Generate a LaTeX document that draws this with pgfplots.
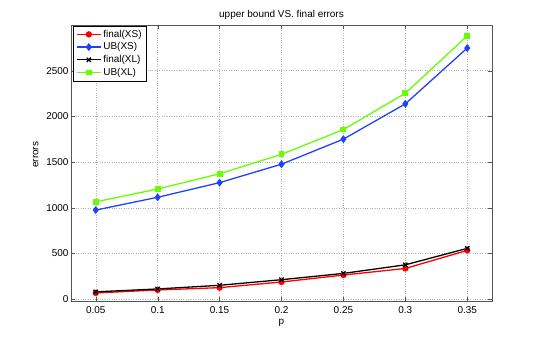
\documentclass[border=0pt]{standalone}
\usepackage{fontspec}
\setmainfont{Liberation Sans}
\usepackage{pgfplots}
\pgfplotsset{compat=1.18}
\definecolor{ubxs}{HTML}{2040FF}
\definecolor{ubxl}{HTML}{66FF00}
\definecolor{axgray}{HTML}{555555}

\begin{document}
\begin{tikzpicture}[x=1bp,y=1bp]
\path (-71,-39) rectangle (474,301);
\begin{axis}[
  at={(0,0)}, anchor=south west,
  scale only axis,
  width=421bp, height=276bp,
  xmin=0.03, xmax=0.37,
  ymin=-20, ymax=3000,
  xtick={0.05,0.1,...,0.36},
  xticklabels={0.05,0.1,0.15,0.2,0.25,0.3,0.35},
  ytick={0,500,...,2500},
  font=\fontsize{10}{12}\selectfont,
  tick label style={font=\fontsize{10}{12}\selectfont},
  /pgf/number format/assume math mode=true,
  /pgf/number format/1000 sep={},
  scaled y ticks=false,
  tick align=inside,
  axis line style={axgray},
  major tick style={axgray},
  grid=major,
  major grid style={dotted, gray!60},
  title={upper bound VS. final errors},
  title style={yshift=-4pt},
  xlabel={p}, ylabel={errors},
  xlabel style={at={(axis description cs:0.5,0)}, anchor=base,
    yshift=-23bp, inner sep=0pt},
  ylabel style={at={(axis description cs:0,0.53)}, anchor=base,
    yshift=32.5bp, inner sep=0pt},
  xticklabel style={anchor=base, yshift=-12.5bp, inner sep=0pt},
  yticklabel style={xshift=1pt},
  legend style={draw=black, font=\fontsize{10}{12}\selectfont,
    inner xsep=3pt, inner ysep=2pt, row sep=0pt,
    at={(0.005,0.997)}, anchor=north west},
  legend image code/.code={
    \draw[mark repeat=2, mark phase=2]
      plot coordinates {(0cm,0cm) (0.42cm,0cm) (0.84cm,0cm)};},
  legend image post style={line width=1.3pt},
  legend cell align=left,
  every axis plot/.append style={line width=1.3pt, mark size=2.5pt},
]
\addplot[red, mark=*] coordinates {
  (0.05,68) (0.1,101) (0.15,126) (0.2,188) (0.25,264) (0.3,336) (0.35,534)};
\addplot[ubxs, mark=diamond*, mark size=3pt] coordinates {
  (0.05,975) (0.1,1115) (0.15,1275) (0.2,1477) (0.25,1751) (0.3,2137) (0.35,2748)};
\addplot[black, mark=x, mark size=3pt] coordinates {
  (0.05,80) (0.1,112) (0.15,152) (0.2,213) (0.25,282) (0.3,376) (0.35,556)};
\addplot[ubxl, mark=square*, mark size=2.3pt] coordinates {
  (0.05,1065) (0.1,1206) (0.15,1372) (0.2,1585) (0.25,1856) (0.3,2253) (0.35,2881)};
\legend{final(XS),UB(XS),final(XL),UB(XL)}
\end{axis}
\end{tikzpicture}
\end{document}
